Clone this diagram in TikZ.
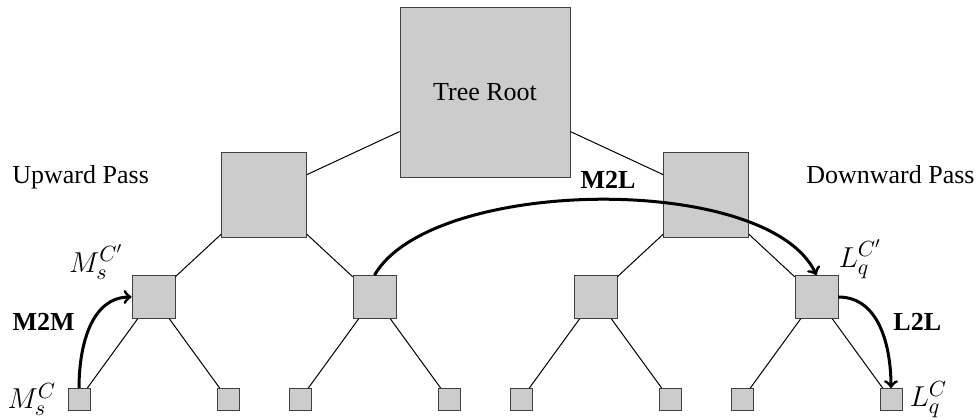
\documentclass[tikz,border=0pt]{standalone}
\usepackage{fontspec}
\setmainfont{Liberation Serif}
\usetikzlibrary{positioning}

\begin{document}
\begin{tikzpicture}
[x=0.5pt, y=-0.5pt, grow=down,
every node/.style={font=\fontsize{13}{15}\selectfont},
box/.style={draw=black!75,fill=black!20,inner sep=0pt},
rootbox/.style={box,minimum size=85pt},
bigbox/.style={box,minimum size=42.5pt},
midbox/.style={box,minimum size=21.5pt},
leafbox/.style={box,minimum size=11pt},
level 1/.style={sibling distance=221pt},
level 2/.style={sibling distance=110.5pt},
level 3/.style={sibling distance=74.5pt},
edge from parent/.style={draw,line width=0.5pt},
pass/.style={->,line width=1.5pt},
lbl/.style={inner sep=0pt},
mathlbl/.style={inner sep=0pt,font=\fontsize{15.5}{18}\selectfont}]
\useasboundingbox (0,0) rectangle (980,419);
% the tree
\node[rootbox] (root) at (485,92) {Tree Root}
[level distance=51.25pt]
  child {node[bigbox] (a) {}
    child {node[midbox] (a1) {}
      child {node[leafbox] (a11) {}}
      child {node[leafbox] (a12) {}}}
    child {node[midbox] (a2) {}
      child {node[leafbox] (a21) {}}
      child {node[leafbox] (a22) {}}}}
  child {node[bigbox] (b) {}
    child {node[midbox] (b1) {}
      child {node[leafbox] (b11) {}}
      child {node[leafbox] (b12) {}}}
    child {node[midbox] (b2) {}
      child {node[leafbox] (b21) {}}
      child {node[leafbox] (b22) {}}}};
% labels
\node[lbl, anchor=base west] (up) at (12,183) {Upward Pass};
\node[lbl, anchor=base east] (down) at (975,183) {Downward Pass};
\node[mathlbl, left=4pt of a1.north west, yshift=6.5pt] (ms1) {$M_s^{C'}$};
\node[mathlbl, right=0pt of b2.north east, yshift=8pt] (lq1) {$L_q^{C'}$};
\node[mathlbl, left=5.5pt of a11.west] (ms0) {$M_s^C$};
\node[mathlbl, right=3.5pt of b22.east] (lq0) {$L_q^C$};
\node[lbl, anchor=base east] (m2m) at (75,330) {\textbf{M2M}};
\node[lbl, anchor=base] (m2l) at (608,188) {\textbf{M2L}};
\node[lbl, anchor=base west] (l2l) at (893,330) {\textbf{L2L}};
% passes
\draw[pass] (a11.north) to[out=90,in=180] (a1.west);
\draw[pass] (a2.north) to[out=60,in=115,looseness=0.66] (b2.north);
\draw[pass] (b2.east) to[out=0,in=90] (b22.north);
\end{tikzpicture}
\end{document}
